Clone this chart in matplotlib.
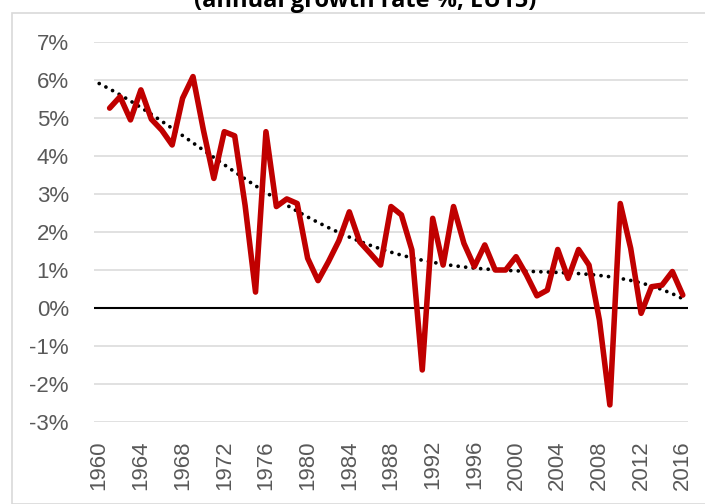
import numpy as np
import matplotlib
matplotlib.use("Agg")
import matplotlib.pyplot as plt
from matplotlib.patches import Rectangle

# annual GDP growth, EU15 (%)
years = list(range(1961, 2017))
growth = [5.26, 5.56, 4.95, 5.74, 4.97, 4.68, 4.29, 5.52, 6.09, 4.68,
          3.41, 4.64, 4.53, 2.70, 0.42, 4.64, 2.67, 2.87, 2.75, 1.31,
          0.72, 1.22, 1.77, 2.53, 1.74, 1.44, 1.13, 2.67, 2.45, 1.53,
          -1.63, 2.36, 1.13, 2.67, 1.70, 1.09, 1.66, 1.00, 1.00, 1.35,
          0.87, 0.32, 0.47, 1.54, 0.78, 1.54, 1.13, -0.32, -2.55, 2.75,
          1.57, -0.14, 0.56, 0.60, 0.96, 0.34]
tick_years = list(range(1960, 2017, 4))
y_ticks = list(range(-3, 8))

W, H = 705, 504
fig = plt.figure(figsize=(W / 100, H / 100), dpi=100)

# outer chart border
fig.patches.append(Rectangle((12 / W, 0), 1, 1 - 13 / H, transform=fig.transFigure,
                             fill=False, edgecolor="#d9d9d9", linewidth=1.2))

ax = fig.add_axes([94 / W, (H - 422) / H, (688 - 94) / W, (422 - 42) / H])

# polynomial trend line, like Excel's
xs = np.array(years) - 1960
coef = np.polyfit(xs, growth, 4)
trend_x = np.arange(1960, 2017)
ax.plot(trend_x, np.polyval(coef, trend_x - 1960), color="black", linewidth=2.7,
        linestyle=(0, (0.01, 2.0)), dash_capstyle="round", zorder=3)

ax.plot(years, growth, color="#C00000", linewidth=4.0, solid_joinstyle="round",
        solid_capstyle="round", zorder=4)

ax.axhline(0, color="black", linewidth=1.5, zorder=2)
ax.set_ylim(-3, 7)
ax.set_xlim(1959.5, 2016.5)
ax.set_yticks(y_ticks)
ax.set_yticklabels([f"{v}%" for v in y_ticks])
ax.set_xticks(tick_years)
ax.set_xticklabels([str(y) for y in tick_years], rotation=90)
ax.yaxis.grid(True, color="#d9d9d9", linewidth=1.1)
ax.set_axisbelow(True)
for s in ax.spines.values():
    s.set_visible(False)
ax.tick_params(axis="both", length=0, labelsize=16, labelcolor="#595959")
ax.tick_params(axis="y", pad=18)
ax.tick_params(axis="x", pad=13)
for lab in ax.get_xticklabels() + ax.get_yticklabels():
    lab.set_fontfamily("Liberation Sans")

fig.text(365 / W, 1 - 7 / H, "(annual growth rate %, EU15)", ha="center", va="baseline",
         fontsize=17, fontweight="bold", family="Open Sans")

fig.savefig("out.png", dpi=100)
